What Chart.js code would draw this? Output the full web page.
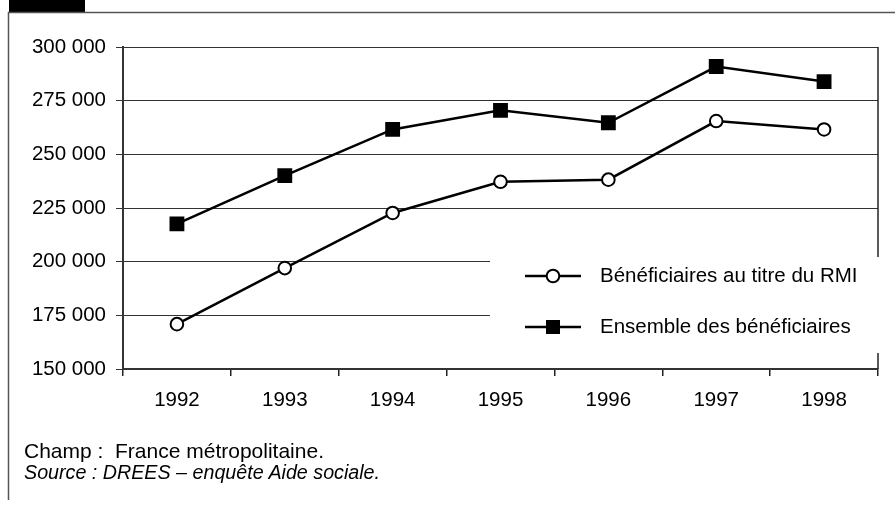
<!DOCTYPE html>
<html lang="fr">
<head>
<meta charset="UTF-8">
<title>Bénéficiaires de l'aide sociale</title>
<script src="https://cdn.jsdelivr.net/npm/chart.js@4.4.0/dist/chart.umd.min.js"></script>
<style>
  html, body { margin: 0; padding: 0; background: #fff; }
  #wrap { position: relative; width: 895px; height: 505px; }
  .note { position: absolute; left: 24px; font-family: "Liberation Sans", Arial, sans-serif; font-size: 21px; line-height: 20px; color: #000; white-space: pre; }
</style>
</head>
<body>
<div id="wrap">
  <canvas id="chart" width="895" height="505"></canvas>
  <div class="note" style="top:441px">Champ :  France métropolitaine.</div>
  <div class="note" style="top:462px; font-style:italic; font-size:19.7px">Source : DREES – enquête Aide sociale.</div>
</div>
<script>
// data
const years = ['1992', '1993', '1994', '1995', '1996', '1997', '1998'];
const rmi = [170900, 197000, 222700, 237200, 238200, 265500, 261600];
const total = [217600, 240100, 261600, 270500, 264700, 290900, 283900];
const seriesNames = ['Bénéficiaires au titre du RMI', 'Ensemble des bénéficiaires'];

const FONT = '"Liberation Sans", Arial, sans-serif';

function fmt(v) {
  return String(v).replace(/\B(?=(\d{3})+(?!\d))/g, ' ');
}

// frame, plot border and legend box
const decor = {
  id: 'decor',
  beforeDraw(chart) {
    const c = chart.ctx;
    c.save();
    c.fillStyle = '#000';
    c.fillRect(9, 0, 76, 12);
    c.strokeStyle = '#555';
    c.lineWidth = 1.5;
    c.beginPath();
    c.moveTo(8, 12.5); c.lineTo(895, 12.5);
    c.moveTo(8.5, 12); c.lineTo(8.5, 500);
    c.stroke();
    c.restore();
  },
  afterDraw(chart) {
    const c = chart.ctx;
    const a = chart.chartArea;
    c.save();
    // right edge of the plot
    c.strokeStyle = '#222';
    c.lineWidth = 1.5;
    c.beginPath();
    c.moveTo(a.right, a.top); c.lineTo(a.right, a.bottom);
    c.stroke();
    // legend
    const lx = 490, ly = 257;
    c.fillStyle = '#fff';
    c.fillRect(lx, ly, a.right + 2 - lx, 96);
    chart.data.datasets.forEach((ds, i) => {
      const y = 276 + i * 51;
      c.strokeStyle = '#000';
      c.lineWidth = 2.5;
      c.beginPath();
      c.moveTo(525, y); c.lineTo(581, y);
      c.stroke();
      if (ds.pointStyle === 'rect') {
        c.fillStyle = '#000';
        c.fillRect(553 - 7, y - 7, 14, 14);
      } else {
        c.fillStyle = '#fff';
        c.lineWidth = 2;
        c.beginPath();
        c.arc(553, y, 6.3, 0, Math.PI * 2);
        c.fill();
        c.stroke();
      }
      c.fillStyle = '#000';
      c.font = '20.5px ' + FONT;
      c.textBaseline = 'middle';
      c.textAlign = 'left';
      c.fillText(ds.label, 600, y);
    });
    c.restore();
  }
};

new Chart(document.getElementById('chart'), {
  type: 'line',
  data: {
    labels: years,
    datasets: [
      {
        label: seriesNames[0],
        data: rmi,
        borderColor: '#000',
        borderWidth: 2.5,
        pointStyle: 'circle',
        pointRadius: 6.3,
        pointBorderWidth: 2,
        pointBackgroundColor: '#fff',
        pointBorderColor: '#000',
        tension: 0
      },
      {
        label: seriesNames[1],
        data: total,
        borderColor: '#000',
        borderWidth: 2.5,
        pointStyle: 'rect',
        pointRadius: 10.5,
        pointBorderWidth: 0,
        pointBackgroundColor: '#000',
        pointBorderColor: '#000',
        tension: 0
      }
    ]
  },
  options: {
    responsive: false,
    animation: false,
    events: [],
    layout: { padding: { left: 0, right: 17, top: 47, bottom: 96 } },
    plugins: {
      legend: { display: false },
      tooltip: { enabled: false }
    },
    scales: {
      x: {
        offset: true,
        afterFit: s => { s.height = 40; },
        grid: { offset: true, drawOnChartArea: false, drawTicks: true, tickLength: 7, color: '#222', lineWidth: 1.5 },
        border: { color: '#333', width: 2 },
        ticks: { color: '#000', font: { family: FONT, size: 20.5 }, padding: 12, maxRotation: 0 }
      },
      y: {
        min: 150000,
        max: 300000,
        afterFit: s => { s.width = 123; },
        grid: { color: '#333', lineWidth: 1, tickLength: 7 },
        border: { color: '#333', width: 2 },
        ticks: {
          stepSize: 25000,
          color: '#000',
          padding: 10,
          font: { family: FONT, size: 20.5 },
          callback: v => fmt(v)
        }
      }
    }
  },
  plugins: [decor]
});
</script>
</body>
</html>
